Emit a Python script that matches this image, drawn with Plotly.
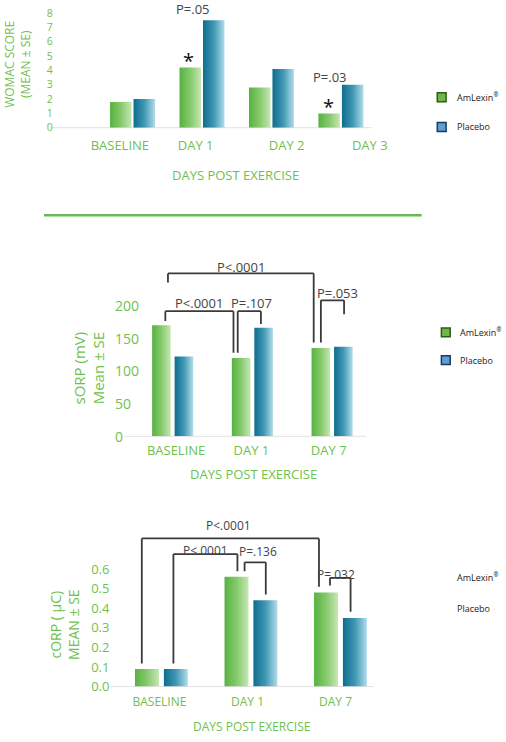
import plotly.graph_objects as go

W, H = 506, 742

# ---------------- data ----------------
womac_cats = ["BASELINE", "DAY 1", "DAY 2", "DAY 3"]
womac_amlexin = [1.8, 4.2, 2.8, 1.0]
womac_placebo = [2.0, 7.5, 4.1, 3.0]
womac_yticks = [0, 1, 2, 3, 4, 5, 6, 7, 8]
womac_pvalues = ["P=.05", "P=.03"]

sorp_cats = ["BASELINE", "DAY 1", "DAY 7"]
sorp_amlexin = [170, 120, 135]
sorp_placebo = [122, 166, 137]
sorp_yticks = [0, 50, 100, 150, 200]
sorp_pvalues = ["P<.0001", "P<.0001", "P=.107", "P=.053"]

corp_cats = ["BASELINE", "DAY 1", "DAY 7"]
corp_amlexin = [0.09, 0.56, 0.48]
corp_placebo = [0.09, 0.44, 0.35]
corp_yticks = [0.0, 0.1, 0.2, 0.3, 0.4, 0.5, 0.6]
corp_yticktext = ["0.0", "0.1", "0.2", "0.3", "0.4", "0.5", "0.6"]
corp_pvalues = ["P<.0001", "P<.0001", "P=.136", "P=.032"]

series_names = ["AmLexin<sup>®</sup>", "Placebo"]

# ---------------- style ----------------
GREEN_TXT = "#6fc14d"
DARK_TXT = "#444444"
GREEN_GRAD = [[0, "#56b241"], [0.5, "#86c96c"], [1, "#c6e7b4"]]
BLUE_GRAD = [[0, "#0e6d8d"], [0.5, "#3f97b4"], [1, "#b2dcea"]]
FONT = "Open Sans"


def xdom(a, b):
    return [a / W, b / W]


def ydom(top, bottom):
    return [1 - bottom / H, 1 - top / H]


fig = go.Figure()

# panel settings: (axis suffix, cats, amlexin, placebo, bar width, offset)
panels = [
    ("", womac_cats, womac_amlexin, womac_placebo, 22 / 71, 12 / 71),
    ("2", sorp_cats, sorp_amlexin, sorp_placebo, 19 / 81.5, 11.5 / 81.5),
    ("3", corp_cats, corp_amlexin, corp_placebo, 24.5 / 91.5, 14.75 / 91.5),
]

for suf, cats, am, pl, bw, off in panels:
    for vals, sign, grad, name in ((am, -1, GREEN_GRAD, "AmLexin"),
                                   (pl, 1, BLUE_GRAD, "Placebo")):
        for i, v in enumerate(vals):
            c = i + sign * off
            x0, x1 = c - bw / 2, c + bw / 2
            fig.add_trace(go.Scatter(
                x=[x0, x0, x1, x1, x0], y=[0, v, v, 0, 0],
                fill="toself", mode="lines", line=dict(width=0),
                fillgradient=dict(type="horizontal", colorscale=grad),
                name=name, hoverinfo="skip", showlegend=False,
                xaxis="x" + suf, yaxis="y" + suf,
            ))

shapes = []
annotations = []


def bracket(suf, x0, x1, yl, yr, top):
    pts = [(x0, yl), (x0, top), (x1, top), (x1, yr)]
    for (a, b), (c, d) in zip(pts[:-1], pts[1:]):
        shapes.append(dict(type="line", xref="x" + suf, yref="y" + suf,
                           x0=a, y0=b, x1=c, y1=d,
                           line=dict(color="#3a3a3a", width=1.8)))


def text(suf, x, y, t, size, color=DARK_TXT, **kw):
    annotations.append(dict(xref="x" + suf, yref="y" + suf, x=x, y=y, text=t,
                            xanchor=kw.pop("xanchor", "center"), yanchor="middle",
                            showarrow=False, font=dict(family=FONT, size=size, color=color), **kw))


def ptext(px, py, t, size, color=GREEN_TXT, **kw):
    annotations.append(dict(xref="paper", yref="paper", x=px / W, y=1 - py / H, text=t,
                            xanchor=kw.pop("xanchor", "center"), yanchor="middle",
                            showarrow=False, font=dict(family=FONT, size=size, color=color), **kw))


# ---- panel 1 annotations ----
text("", 0.866, 8.3, womac_pvalues[0], 13)
text("", 2.838, 3.54, womac_pvalues[1], 13)
text("", 0.81, womac_amlexin[1] + 0.8, "*", 20, color="#111111", yshift=-4)
text("", 2.824, womac_amlexin[3] + 0.75, "*", 20, color="#111111", yshift=-4)

# ---- panel 2 brackets ----
b2 = [(-0.059, 1.769, 235.2, 143.5, 249.2, 0.861, 259.4),
      (-0.092, 0.763, 176.3, 127.9, 191.4, 0.325, 203.5),
      (0.816, 1.107, 127.9, 171.8, 191.4, 0.988, 203.5),
      (1.859, 2.150, 143.5, 186.9, 208.0, 2.067, 219.0)]
for (x0, x1, yl, yr, top, lx, ly), lab in zip(b2, sorp_pvalues):
    bracket("2", x0, x1, yl, yr, top)
    text("2", lx, ly, lab, 13)

# ---- panel 3 brackets ----
b3 = [(-0.219, 1.760, 0.1175, 0.509, 0.756, 0.746, 0.823),
      (0.134, 0.849, 0.1175, 0.588, 0.676, 0.492, 0.692),
      (0.929, 1.166, 0.588, 0.470, 0.634, 1.074, 0.689),
      (1.883, 2.113, 0.516, 0.382, 0.555, 1.953, 0.571)]
for (x0, x1, yl, yr, top, lx, ly), lab in zip(b3, corp_pvalues):
    bracket("3", x0, x1, yl, yr, top)
    text("3", lx, ly, lab, 12)

# ---- panel 2 y tick labels (left aligned, as in the reference) ----
for v in sorp_yticks:
    annotations.append(dict(xref="paper", yref="y2", x=116 / W, y=v, text=str(v),
                            xanchor="left", yanchor="middle", showarrow=False,
                            font=dict(family=FONT, size=14, color=GREEN_TXT)))

# ---- axis titles ----
ptext(18, 65, "WOMAC SCORE<br>(MEAN ± SE)", 12, textangle=-90)
ptext(241, 177, "DAYS POST EXERCISE", 13)
ptext(91, 373, "sORP (mV)<br>Mean ± SE", 15, textangle=-90)
ptext(259, 480, "DAYS POST EXERCISE", 13)
ptext(66, 632, "cORP ( µC)<br>MEAN ± SE", 14, textangle=-90)
ptext(257, 735, "DAYS POST EXERCISE", 12)

# ---- legends ----
for (sx, gy, by, tx) in ((451.5, 98.5, 128.5, 465), (455.7, 336.5, 364.5, 468)):
    shapes.append(dict(type="rect", xref="paper", yref="paper",
                       x0=(sx - 4.5) / W, x1=(sx + 4.5) / W,
                       y0=1 - (gy + 4.5) / H, y1=1 - (gy - 4.5) / H,
                       fillcolor="#6fb843", line=dict(color="#2e5a1c", width=1.5)))
    shapes.append(dict(type="rect", xref="paper", yref="paper",
                       x0=(sx - 4.5) / W, x1=(sx + 4.5) / W,
                       y0=1 - (by + 4.5) / H, y1=1 - (by - 4.5) / H,
                       fillcolor="#5b9fd6", line=dict(color="#1c3a5c", width=1.5)))
    ptext(tx, gy, series_names[0], 9, color="#222222", xanchor="left")
    ptext(tx, by, series_names[1], 9, color="#222222", xanchor="left")
ptext(465, 584, series_names[0], 9, color="#222222", xanchor="left")
ptext(465, 616, series_names[1], 9, color="#222222", xanchor="left")

# ---- separator & baselines ----
shapes.append(dict(type="line", xref="paper", yref="paper",
                   x0=45 / W, x1=431 / W, y0=1 - 218 / H, y1=1 - 218 / H,
                   line=dict(color="#66bb55", width=2.5)))
for (a, b, y) in ((52, 380, 129.3), (127, 374, 441.7), (113, 382, 695)):
    shapes.append(dict(type="line", xref="paper", yref="paper",
                       x0=a / W, x1=b / W, y0=1 - y / H, y1=1 - y / H,
                       line=dict(color="#e2e2e2", width=1), layer="below"))

tickfont = lambda s: dict(family=FONT, size=s, color=GREEN_TXT)
noline = dict(showgrid=False, zeroline=False, showline=False, ticks="")

fig.update_layout(
    width=W, height=H, margin=dict(l=0, r=0, t=0, b=0),
    paper_bgcolor="white", plot_bgcolor="rgba(0,0,0,0)", showlegend=False,
    xaxis=dict(domain=xdom(58, 385), range=[-1.0915, 3.514], anchor="y",
               tickvals=[-0.183, 0.908, 2.218, 3.415], ticktext=womac_cats,
               tickfont=tickfont(13), ticklabelstandoff=8, **noline),
    yaxis=dict(domain=ydom(4, 129.3), range=[0, 8.641], anchor="x",
               tickvals=womac_yticks, tickfont=tickfont(10.5), ticklabelstandoff=3, **noline),
    xaxis2=dict(domain=xdom(117, 380), range=[-0.730, 2.497], anchor="y2",
                tickvals=[0.043, 0.988, 1.957], ticktext=sorp_cats,
                tickfont=tickfont(13), ticklabelstandoff=5, **noline),
    yaxis2=dict(domain=ydom(262, 441.7), range=[0, 271.5], anchor="x2",
                showticklabels=False, **noline),
    xaxis3=dict(domain=xdom(116, 385), range=[-0.5355, 2.404], anchor="y3",
                tickvals=[-0.022, 0.962, 1.945], ticktext=corp_cats,
                tickfont=tickfont(12), ticklabelstandoff=6, **noline),
    yaxis3=dict(domain=ydom(525, 695), range=[0, 0.857], anchor="x3",
                tickvals=corp_yticks, ticktext=corp_yticktext, tickfont=tickfont(13),
                ticklabelstandoff=3, **noline),
    shapes=shapes, annotations=annotations,
)

fig.write_html("out.html", config={"displayModeBar": False},
               post_script="document.body.style.margin='0';document.body.style.overflow='hidden';")
